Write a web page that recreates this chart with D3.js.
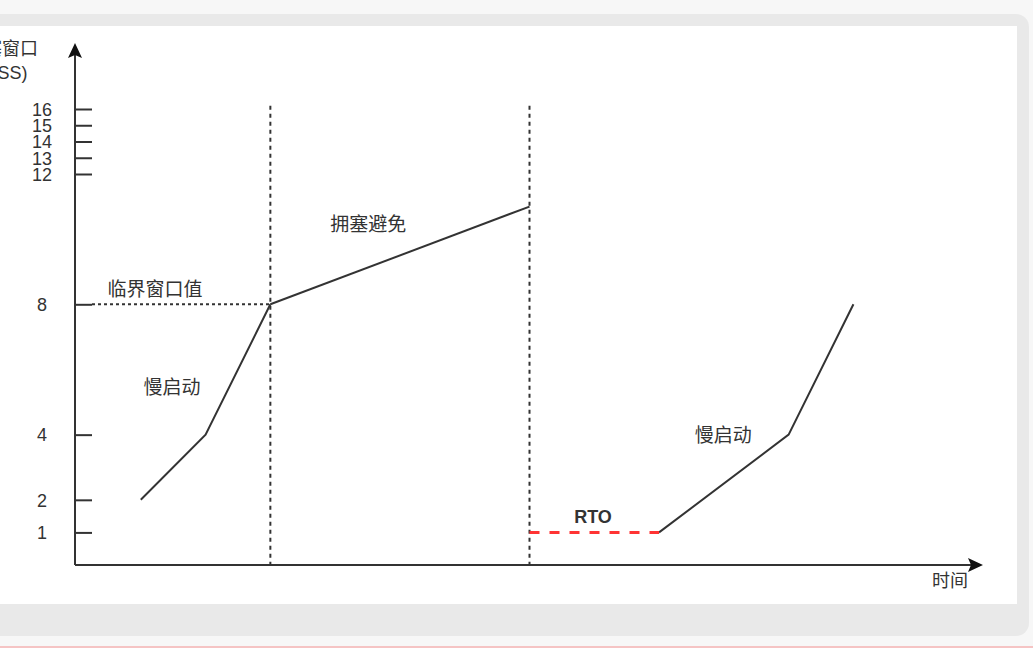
<!DOCTYPE html>
<html>
<head>
<meta charset="utf-8">
<script src="https://cdn.jsdelivr.net/npm/d3@7/dist/d3.min.js"></script>
<style>
  html, body { margin: 0; padding: 0; background: #f7f7f7; }
  svg { display: block; }
  text { font-family: "Liberation Sans", "Noto Sans CJK SC", sans-serif; fill: #333; }
  .cjk { font-family: "Noto Sans CJK SC", "Liberation Sans", sans-serif; }
</style>
</head>
<body>
<svg id="chart" width="1033" height="648"></svg>
<script>
// ---- data ----
const yTickValues = [1, 2, 4, 8, 12, 13, 14, 15, 16];
const yTickLabels = ["1", "2", "4", "8", "12", "13", "14", "15", "16"];
const threshold = 8;
const phaseBoundaries = [3, 7];
const slowStart1T = [1, 2, 3];
const slowStart1Cwnd = [2, 4, 8];
const congestionAvoidT = [3, 7];
const congestionAvoidCwnd = [8, 11];
const rtoT = [7, 9];
const rtoCwnd = [1, 1];
const slowStart2T = [9, 11, 12];
const slowStart2Cwnd = [1, 4, 8];
const annotationTexts = ["临界窗口值", "慢启动", "拥塞避免", "慢启动"];
const annotationT = [1.22, 1.48, 4.51, 9.99];
const annotationCwnd = [8.47, 5.46, 10.46, 3.99];
const yAxisTitle = ["拥塞窗口", "(MSS)"];
const xAxisTitle = "时间";
const rtoLabel = "RTO";

// ---- layout ----
const svg = d3.select("#chart");
const x0 = 75, y0 = 565;
const x = d3.scaleLinear().domain([0, 14]).range([76, 983]);
const y = d3.scaleLinear().domain([0, 8, 12, 16]).range([y0, 304.3, 174, 109]);

// background frame
svg.append("rect").attr("x", -20).attr("y", 14).attr("width", 1049).attr("height", 622)
  .attr("rx", 13).attr("fill", "#e9e9e9");
svg.append("rect").attr("x", -20).attr("y", 26).attr("width", 1037).attr("height", 578)
  .attr("fill", "#ffffff");
svg.append("rect").attr("x", 0).attr("y", 646).attr("width", 1033).attr("height", 2)
  .attr("fill", "#f5c4c4");

const ink = "#333";

// arrowheads
function arrow(tipX, tipY, dir) {
  let pts;
  if (dir === "up") {
    pts = [[tipX, tipY], [tipX + 7, tipY + 15], [tipX, tipY + 12], [tipX - 7, tipY + 15]];
  } else {
    pts = [[tipX, tipY], [tipX - 15, tipY - 7], [tipX - 12, tipY], [tipX - 15, tipY + 7]];
  }
  svg.append("path").attr("d", d3.line()(pts) + "Z").attr("fill", "#111");
}

// axes lines
svg.append("line").attr("x1", x0).attr("y1", y0).attr("x2", x0).attr("y2", 50)
  .attr("stroke", ink).attr("stroke-width", 2);
arrow(x0, 43, "up");
svg.append("line").attr("x1", x0).attr("y1", y0).attr("x2", 975).attr("y2", y0)
  .attr("stroke", ink).attr("stroke-width", 2);
arrow(983, y0, "right");

// y ticks via d3 axis
const yAxis = d3.axisRight(y).tickValues(yTickValues).tickSize(17)
  .tickFormat((d, i) => yTickLabels[i]);
const gy = svg.append("g").attr("transform", `translate(${x0},0)`).call(yAxis);
gy.select(".domain").remove();
gy.selectAll(".tick line").attr("stroke", ink).attr("stroke-width", 2);
gy.selectAll(".tick text")
  .attr("x", -33).attr("text-anchor", "middle").attr("dy", "0.35em")
  .attr("font-size", 18).attr("fill", ink)
  .style("font-family", "'Liberation Sans', sans-serif");

// threshold dashed line
svg.append("line").attr("x1", x0 + 17).attr("x2", x(phaseBoundaries[0]))
  .attr("y1", y(threshold)).attr("y2", y(threshold))
  .attr("stroke", ink).attr("stroke-width", 2).attr("stroke-dasharray", "3,3");

// vertical phase boundaries
svg.selectAll(".phase").data(phaseBoundaries).enter().append("line")
  .attr("x1", d => x(d)).attr("x2", d => x(d))
  .attr("y1", y(16.2)).attr("y2", y0)
  .attr("stroke", ink).attr("stroke-width", 2).attr("stroke-dasharray", "4,4");

const line = d3.line().x(d => x(d[0])).y(d => y(d[1]));
function series(ts, vs) { return ts.map((t, i) => [t, vs[i]]); }

svg.append("path").attr("d", line(series(slowStart1T, slowStart1Cwnd)))
  .attr("fill", "none").attr("stroke", ink).attr("stroke-width", 2);
svg.append("path").attr("d", line(series(congestionAvoidT, congestionAvoidCwnd)))
  .attr("fill", "none").attr("stroke", ink).attr("stroke-width", 2);
svg.append("path").attr("d", line(series(slowStart2T, slowStart2Cwnd)))
  .attr("fill", "none").attr("stroke", ink).attr("stroke-width", 2);
svg.append("path").attr("d", line(series(rtoT, rtoCwnd)))
  .attr("fill", "none").attr("stroke", "#ff3333").attr("stroke-width", 3)
  .attr("stroke-dasharray", "10,10");

// annotations
annotationTexts.forEach((t, i) => {
  svg.append("text").attr("class", "cjk")
    .attr("x", x(annotationT[i])).attr("y", y(annotationCwnd[i]))
    .attr("text-anchor", "middle").attr("dy", "0.36em")
    .attr("font-size", 19).text(t);
});
svg.append("text").attr("x", x(7.98)).attr("y", y(1.29))
  .attr("text-anchor", "middle").attr("font-size", 18).attr("font-weight", "bold")
  .attr("fill", "#111").text(rtoLabel);

// axis titles
svg.append("text").attr("class", "cjk").attr("x", x(13.49)).attr("y", 581)
  .attr("text-anchor", "middle").attr("dy", "0.36em").attr("font-size", 18).text(xAxisTitle);
const yt = svg.append("text").attr("class", "cjk").attr("text-anchor", "middle").attr("font-size", 18);
yt.append("tspan").attr("x", 2).attr("y", 49).attr("dy", "0.36em").text(yAxisTitle[0]);
yt.append("tspan").attr("x", 2).attr("y", 73).attr("dy", "0.36em")
  .style("font-family", "'Liberation Sans', sans-serif").text(yAxisTitle[1]);
</script>
</body>
</html>
